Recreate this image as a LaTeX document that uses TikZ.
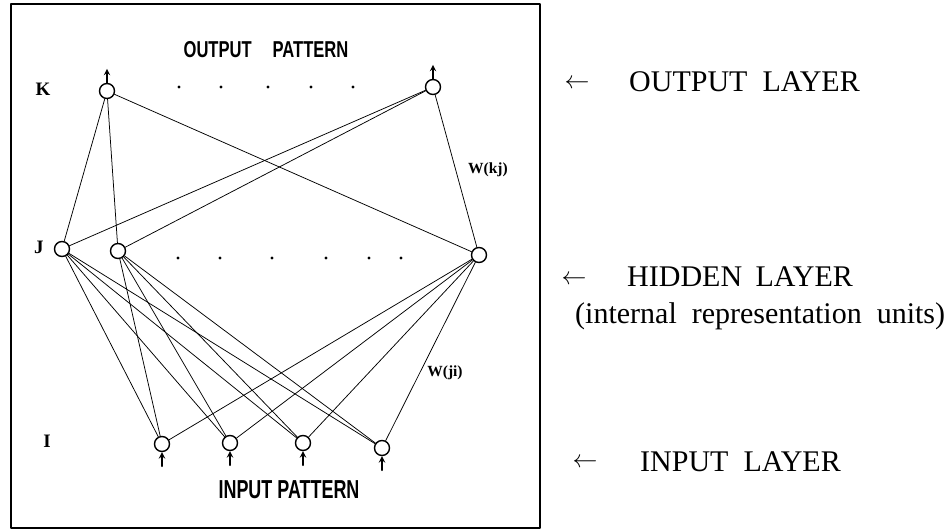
\documentclass[tikz,border=0pt]{standalone}
\usepackage{fontspec}
\setmainfont{Liberation Serif}
\newfontfamily\plotfont{Liberation Sans}
\begin{document}
\begin{tikzpicture}[x=1pt,y=-1pt,line join=round,line cap=round,>=stealth]
\tikzset{unit/.style={circle,draw,line width=1.4pt,minimum size=15pt,inner sep=0pt},
	wire/.style={line width=0.75pt},
	feed/.style={->,line width=1.8pt},
	layer name/.style={font=\fontsize{19}{19}\selectfont\bfseries,inner sep=0pt},
	weight name/.style={font=\fontsize{15.5}{15.5}\selectfont\bfseries,inner sep=0pt},
	side label/.style={anchor=west,inner sep=0pt,font=\fontsize{30}{32}\selectfont},
	side arrow/.style={inner sep=0pt,font=\fontsize{30}{30}\selectfont}}
\useasboundingbox (0,0) rectangle (945,532);
\draw[line width=1.2pt] (11,4) rectangle (540,528);
\node[unit] (k1) at (107,91) {};
\node[unit] (k2) at (433,87) {};
\node[unit] (j1) at (62,249) {};
\node[unit] (j2) at (118,251) {};
\node[unit] (j3) at (479,255) {};
\node[unit] (i1) at (162,444) {};
\node[unit] (i2) at (230,443) {};
\node[unit] (i3) at (303,443) {};
\node[unit] (i4) at (382,448) {};
\foreach \k in {k1,k2}
	\foreach \j in {j1,j2,j3}
		\draw[wire] (\k) -- (\j);
\foreach \j in {j1,j2,j3}
	\foreach \i in {i1,i2,i3,i4}
		\draw[wire] (\j) -- (\i);
\foreach \k in {k1,k2} {
	\coordinate (\k-out) at ([yshift=14pt]\k.north);
	\draw[feed] (\k.north) -- (\k-out);
}
\foreach \i in {i1,i2,i3,i4} {
	\coordinate (\i-in) at ([yshift=-14pt]\i.south);
	\draw[feed] (\i-in) -- (\i.south);
}
\foreach \x in {179,221,268,311,353} \fill (\x,87) circle (1.7);
\foreach \x in {178,220,272,326,369,401} \fill (\x,258) circle (1.7);
\node[font=\plotfont\bfseries\fontsize{23}{23}\selectfont] (outpat) at (266,50)
	{\scalebox{0.72}[1]{OUTPUT\hspace{29pt}PATTERN}};
\node[font=\plotfont\bfseries\fontsize{26}{26}\selectfont] (inpat) at (289,490)
	{\scalebox{0.69}[1]{INPUT PATTERN}};
\node[layer name] (lk) at (43,89) {K};
\node[layer name] (lj) at (39,247) {J};
\node[layer name] (li) at (47,441) {I};
\node[weight name] (wkj) at (488,170) {W(kj)};
\node[weight name] (wji) at (445,373) {W(ji)};
\node[side arrow] (aout) at (577,84) {$\leftarrow$};
\node[side label] (lout) at (629,82) {OUTPUT\hspace{0.5em}LAYER};
\node[side arrow] (ahid) at (574,280) {$\leftarrow$};
\node[side label] (lhid) at (627,277) {HIDDEN\hspace{0.45em}LAYER};
\node[side label] (lrep) at (575,316) {(internal\hspace{0.5em}representation\hspace{0.5em}units)};
\node[side arrow] (ain) at (585,463) {$\leftarrow$};
\node[side label] (lin) at (640,462) {INPUT\hspace{0.5em}LAYER};
\end{tikzpicture}
\end{document}
